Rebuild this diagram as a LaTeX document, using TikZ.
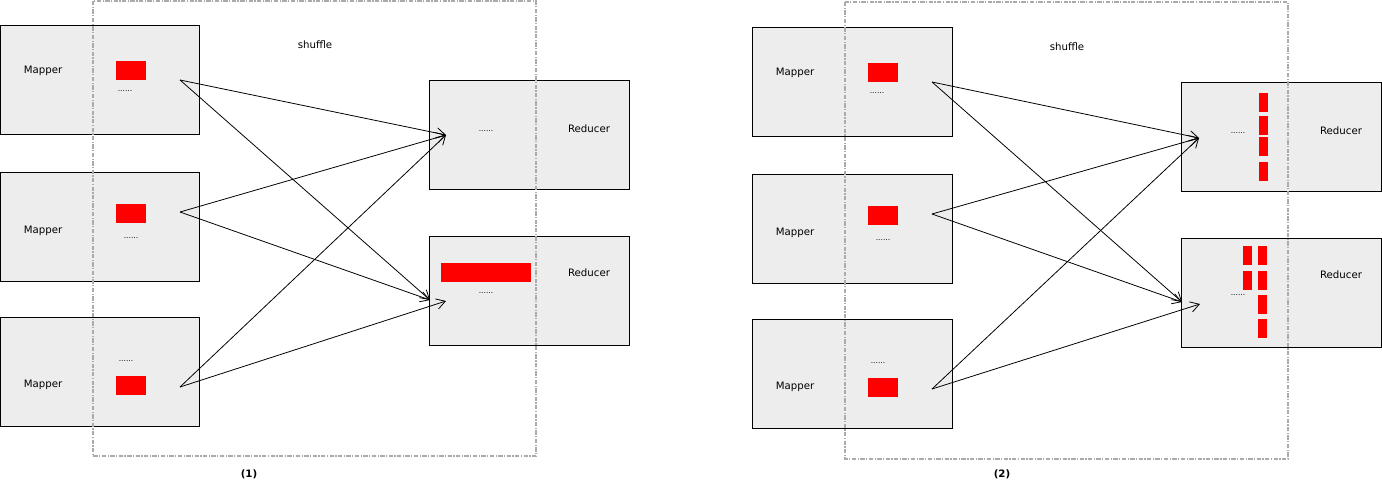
\documentclass[tikz,border=0pt]{standalone}
\usepackage{fontspec}
\setmainfont{DejaVu Sans}
\usetikzlibrary{arrows.meta}
\definecolor{boxgray}{HTML}{EDEDED}
\definecolor{cutgray}{HTML}{ABABAB}
\tikzset{
  mapbox/.style={draw, fill=boxgray, line width=0.55pt, inner sep=0pt,
    minimum width=4cm, minimum height=2.18cm},
  redbox/.style={fill=red, inner sep=0pt},
  lbl/.style={font=\fontsize{5.8}{7}\selectfont, inner sep=0pt},
  dots/.style={font=\fontsize{4.3}{5}\selectfont, inner sep=0pt},
  flow/.style={line width=0.45pt, -{Straight Barb[length=5pt,width=6pt]}},
  shufflebox/.style={cutgray, line width=0.8pt,
    dash pattern=on 2.5pt off 0.8pt on 0.7pt off 0.8pt}
}
\begin{document}
\begin{tikzpicture}[x=0.02cm, y=-0.02cm]
  \useasboundingbox (0,0) rectangle (1382,480);
  % panel (1)
  \node[mapbox] (m1) at (100,79.5) {};
  \node[mapbox] (m2) at (100,226.5) {};
  \node[mapbox] (m3) at (100,371.5) {};
  \node[mapbox] (r1) at (529.5,135) {};
  \node[mapbox] (r2) at (529.5,291) {};
  \node[redbox, minimum width=0.6cm, minimum height=0.38cm] (m1d) at (131,70.5) {};
  \node[redbox, minimum width=0.6cm, minimum height=0.38cm] (m2d) at (131,213.5) {};
  \node[redbox, minimum width=0.6cm, minimum height=0.38cm] (m3d) at (131,385.5) {};
  \node[redbox, minimum width=1.8cm, minimum height=0.38cm] (r2d) at (486,272.5) {};
  \node[lbl] (m1t) at (43,71) {Mapper};
  \node[lbl] (m2t) at (43,231) {Mapper};
  \node[lbl] (m3t) at (43,385) {Mapper};
  \node[lbl] (r1t) at (589,129) {Reducer};
  \node[lbl] (r2t) at (589,273) {Reducer};
  \node[dots] (m1p) at (125,91) {......};
  \node[dots] (m2p) at (131,238) {......};
  \node[dots] (m3p) at (126,361) {......};
  \node[dots] (r1p) at (486,131) {......};
  \node[dots] (r2p) at (486,293) {......};
  \node[lbl] (sh) at (315,45) {shuffle};
  \node[lbl, font=\bfseries\fontsize{5.8}{7}\selectfont] (cap) at (249,474) {(1)};
  \coordinate (m1o) at (180,80);
  \coordinate (m2o) at (180,212);
  \coordinate (m3o) at (180,387);
  \coordinate (r1i) at (446,135);
  \coordinate (r2a) at (430,300);
  \coordinate (r2b) at (446,301);
  \draw[flow] (m1o) to (r1i);
  \draw[flow] (m1o) to (r2a);
  \draw[flow] (m2o) to (r1i);
  \draw[flow] (m2o) to (r2a);
  \draw[flow] (m3o) to (r1i);
  \draw[flow] (m3o) to (r2b);
  \draw[shufflebox] (93,1) rectangle (536,456);
  % panel (2)
  \begin{scope}[shift={(752,2)}]
    \node[mapbox] (bm1) at (100,79.5) {};
    \node[mapbox] (bm2) at (100,226.5) {};
    \node[mapbox] (bm3) at (100,371.5) {};
    \node[mapbox] (br1) at (529.5,135) {};
    \node[mapbox] (br2) at (529.5,291) {};
    \node[redbox, minimum width=0.6cm, minimum height=0.38cm] (bm1d) at (131,70.5) {};
    \node[redbox, minimum width=0.6cm, minimum height=0.38cm] (bm2d) at (131,213.5) {};
    \node[redbox, minimum width=0.6cm, minimum height=0.38cm] (bm3d) at (131,385.5) {};
    \foreach \y [count=\i] in {100.5,123.5,144.5,169.5}
      \node[redbox, minimum width=0.18cm, minimum height=0.38cm] (br1d\i) at (511.5,\y) {};
    \node[redbox, minimum width=0.18cm, minimum height=0.38cm] (br2a1) at (495.5,253.5) {};
    \node[redbox, minimum width=0.18cm, minimum height=0.38cm] (br2a2) at (495.5,278.5) {};
    \foreach \y [count=\i] in {253.5,278.5,302.5,326.5}
      \node[redbox, minimum width=0.18cm, minimum height=0.38cm] (br2b\i) at (510.5,\y) {};
    \node[lbl] (bm1t) at (43,71) {Mapper};
    \node[lbl] (bm2t) at (43,231) {Mapper};
    \node[lbl] (bm3t) at (43,385) {Mapper};
    \node[lbl] (br1t) at (589,129) {Reducer};
    \node[lbl] (br2t) at (589,273) {Reducer};
    \node[dots] (bm1p) at (125,91) {......};
    \node[dots] (bm2p) at (131,238) {......};
    \node[dots] (bm3p) at (126,361) {......};
    \node[dots] (br1p) at (486,131) {......};
    \node[dots] (br2p) at (486,293) {......};
    \node[lbl] (bsh) at (315,45) {shuffle};
    \node[lbl, font=\bfseries\fontsize{5.8}{7}\selectfont] (bcap) at (250,472) {(2)};
    \coordinate (bm1o) at (180,80);
    \coordinate (bm2o) at (180,212);
    \coordinate (bm3o) at (180,387);
    \coordinate (br1i) at (447,136);
    \coordinate (br2a) at (430,300);
    \coordinate (br2b) at (448,302);
    \draw[flow] (bm1o) to (br1i);
    \draw[flow] (bm1o) to (br2a);
    \draw[flow] (bm2o) to (br1i);
    \draw[flow] (bm2o) to (br2a);
    \draw[flow] (bm3o) to (br1i);
    \draw[flow] (bm3o) to (br2b);
    \draw[shufflebox] (93,0) rectangle (536,457);
  \end{scope}
\end{tikzpicture}
\end{document}
